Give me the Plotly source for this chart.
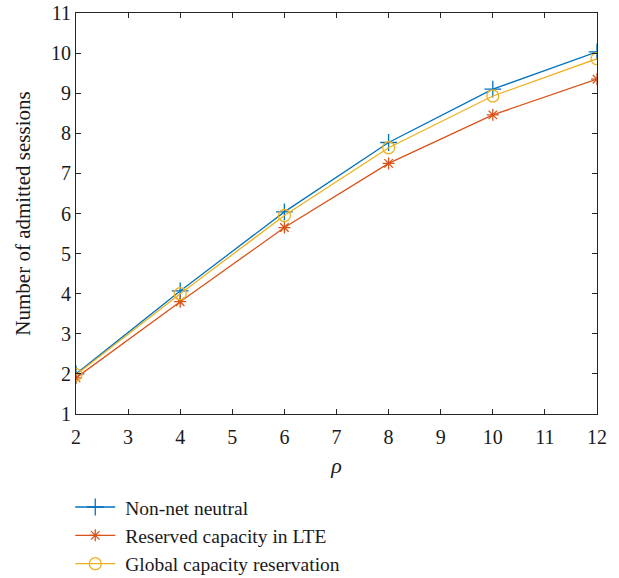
import plotly.graph_objects as go

rho = [2, 4, 6, 8, 10, 12]
non_net_neutral = [2.0, 4.07, 6.04, 7.77, 9.10, 10.03]
reserved_lte = [1.9, 3.8, 5.65, 7.25, 8.46, 9.35]
global_reservation = [1.98, 4.0, 5.95, 7.64, 8.93, 9.86]
series_names = ["Non-net neutral", "Reserved capacity in LTE", "Global capacity reservation"]

x_ticks = list(range(2, 13))
y_ticks = list(range(1, 12))

FONT = "Liberation Serif"
AXC = "#262626"
TXT = "#1a1a1a"

fig = go.Figure()
fig.add_trace(go.Scatter(x=rho, y=non_net_neutral, mode="lines+markers", name="&nbsp;" + series_names[0],
                         line=dict(color="#0072BD", width=1.3),
                         marker=dict(symbol="cross-thin-open", size=12, line=dict(color="#0072BD", width=1.3))))
fig.add_trace(go.Scatter(x=rho, y=reserved_lte, mode="lines+markers", name="&nbsp;" + series_names[1],
                         line=dict(color="#D95319", width=1.3),
                         marker=dict(symbol="asterisk-open", size=10, line=dict(color="#D95319", width=1.3))))
fig.add_trace(go.Scatter(x=rho, y=global_reservation, mode="lines+markers", name="&nbsp;" + series_names[2],
                         line=dict(color="#EDB120", width=1.3),
                         marker=dict(symbol="circle-open", size=12, line=dict(color="#EDB120", width=1.3))))

axis_common = dict(showline=True, linecolor=AXC, linewidth=1, mirror="ticks", ticks="inside",
                   ticklen=5, tickcolor=AXC, showgrid=False, zeroline=False, automargin=False,
                   ticklabeloverflow="allow",
                   tickfont=dict(family=FONT, size=20, color=TXT))

fig.update_xaxes(range=[2, 12], tickvals=x_ticks, ticktext=[str(v) for v in x_ticks],
                 ticklabelstandoff=5,
                 title=dict(text="<i>ρ</i>", font=dict(family=FONT, size=22, color=TXT), standoff=10),
                 **axis_common)
fig.update_yaxes(range=[1, 11], tickvals=y_ticks, ticktext=[str(v) for v in y_ticks],
                 title=dict(text="Number of admitted sessions", font=dict(family=FONT, size=21, color=TXT), standoff=14),
                 **axis_common)

fig.update_layout(
    width=619, height=578,
    margin=dict(l=76, r=22, t=13, b=164, autoexpand=False),
    plot_bgcolor="white", paper_bgcolor="white",
    font=dict(family=FONT, size=18, color=TXT),
    legend=dict(x=-0.011, y=0.156, xanchor="left", yanchor="top", yref="container",
                font=dict(family=FONT, size=19.5, color=TXT),
                bgcolor="rgba(0,0,0,0)", tracegroupgap=0, itemwidth=40),
)

fig.write_html("out.html", config={"displayModeBar": False},
               post_script="document.body.style.margin='0';")
